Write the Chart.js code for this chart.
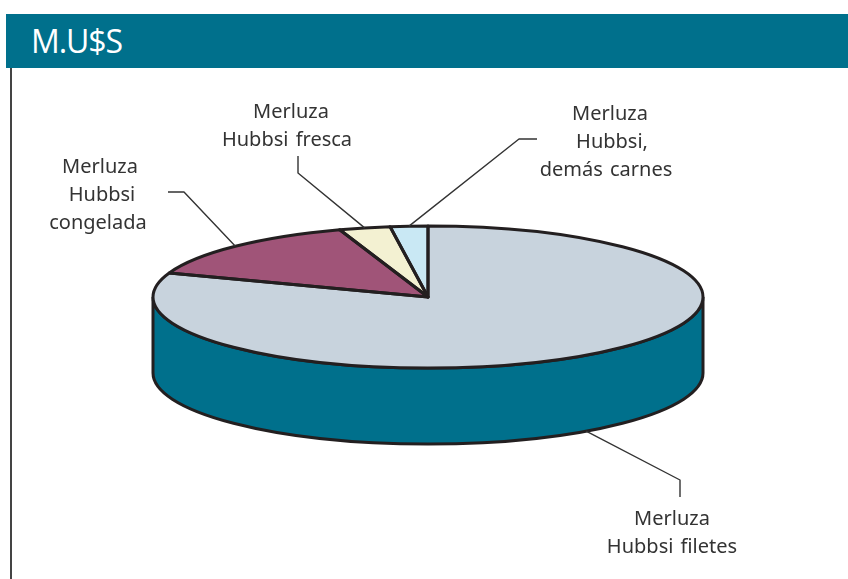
<!DOCTYPE html>
<html>
<head>
<meta charset="utf-8">
<title>M.U$S</title>
<script src="https://cdn.jsdelivr.net/npm/chart.js@4"></script>
<style>
  html, body { margin: 0; padding: 0; background: #fff; overflow: hidden; }
  #page { position: relative; width: 848px; height: 579px; }
  #header {
    position: absolute; left: 6px; top: 14px; width: 842px; height: 54px;
    background: #00708c; color: #fff;
    font: 400 32px/54px "Open Sans", sans-serif; letter-spacing: -1.1px;
    text-indent: 25px;
  }
  #rule { position: absolute; left: 10px; top: 68px; width: 2px; height: 511px; background: #444; }
  #wrap { position: absolute; left: 0; top: 0; width: 848px; height: 579px; }
</style>
</head>
<body>
<div id="page">
  <div id="wrap"><canvas id="chart-pie" width="848" height="579"></canvas></div>
  <div id="header">M.U$S</div>
  <div id="rule"></div>
</div>
<script>
// clockwise from 12 o'clock
const categories = [
	['Merluza', 'Hubbsi filetes'],
	['Merluza', 'Hubbsi', 'congelada'],
	['Merluza', 'Hubbsi fresca'],
	['Merluza', 'Hubbsi,', 'demás carnes'],
];
const values = [80.5, 14.3, 3.0, 2.2];
const topColors = ['#c8d3dd', '#a05478', '#f3f1d2', '#c9e8f4'];
const wallColor = '#00708c';

const centerY = 297;
const radiusX = 275;
const radiusY = 71;
const depth = 76;
const inkColor = '#231f20';
const textColor = '#333333';

// elbow of each leader and where its label lines sit, same order as categories
const callouts = [
	{elbow: [[680, 480], [680, 497]], textX: [672, 672], textY: 519, onWall: true},
	{elbow: [[184, 192], [168, 192]], textX: [100, 102, 98], textY: 167},
	{elbow: [[298, 173], [298, 156]], textX: [291, 287], textY: 112},
	{elbow: [[519, 139], [537, 139]], textX: [610, 612, 606], textY: 114},
];
const lineHeight = 28;

const pie3d = {
	id: 'pie3d',
	beforeDatasetsDraw(chart) {
		const ctx = chart.ctx;
		const arcs = chart.getDatasetMeta(0).data;
		const cx = arcs[0].x;
		// side wall, only the front half of each slice shows
		ctx.save();
		ctx.lineWidth = 3;
		ctx.strokeStyle = inkColor;
		ctx.fillStyle = wallColor;
		for (const arc of arcs) {
			const a = Math.max(arc.startAngle, 0);
			const b = Math.min(arc.endAngle, Math.PI);
			if (a >= b) continue;
			ctx.beginPath();
			ctx.ellipse(cx, centerY, radiusX, radiusY, 0, a, b);
			ctx.ellipse(cx, centerY + depth, radiusX, radiusY, 0, b, a, true);
			ctx.closePath();
			ctx.fill();
			ctx.stroke();
		}
		ctx.restore();
		// squash the flat pie the library draws into the ellipse
		ctx.save();
		ctx.translate(0, centerY);
		ctx.scale(1, radiusY / radiusX);
		ctx.translate(0, -arcs[0].y);
	},
	afterDatasetsDraw(chart) {
		const ctx = chart.ctx;
		ctx.restore();
		const arcs = chart.getDatasetMeta(0).data;
		ctx.save();
		ctx.lineWidth = 3;
		ctx.lineJoin = 'round';
		ctx.strokeStyle = inkColor;
		// slice outlines are stroked unscaled so the pen stays even
		arcs.forEach(arc => {
			ctx.beginPath();
			ctx.moveTo(arc.x, centerY);
			ctx.ellipse(arc.x, centerY, radiusX, radiusY, 0, arc.startAngle, arc.endAngle);
			ctx.closePath();
			ctx.stroke();
		});
		// leaders start at the middle of each slice's rim
		ctx.lineWidth = 1.4;
		ctx.strokeStyle = textColor;
		arcs.forEach((arc, i) => {
			const c = callouts[i];
			const mid = (arc.startAngle + arc.endAngle) / 2;
			const px = arc.x + radiusX * Math.cos(mid);
			const py = centerY + radiusY * Math.sin(mid) + (c.onWall ? depth : 0);
			ctx.beginPath();
			ctx.moveTo(px, py);
			c.elbow.forEach(p => ctx.lineTo(p[0], p[1]));
			ctx.stroke();
		});
		ctx.fillStyle = textColor;
		ctx.font = '20px "Noto Sans", sans-serif';
		ctx.textAlign = 'center';
		ctx.textBaseline = 'middle';
		ctx.wordSpacing = '2px';
		categories.forEach((lines, i) => {
			lines.forEach((line, j) => {
				ctx.fillText(line, callouts[i].textX[j], callouts[i].textY + j * lineHeight);
			});
		});
		ctx.restore();
	},
};

new Chart(document.getElementById('chart-pie'), {
	type: 'pie',
	data: {
		labels: categories,
		datasets: [{
			data: values,
			backgroundColor: topColors,
			borderWidth: 0,
		}],
	},
	options: {
		responsive: false,
		animation: false,
		events: [],
		radius: radiusX,
		layout: {padding: {left: 8}},
		plugins: {legend: {display: false}, tooltip: {enabled: false}},
	},
	plugins: [pie3d],
});
</script>
</body>
</html>
